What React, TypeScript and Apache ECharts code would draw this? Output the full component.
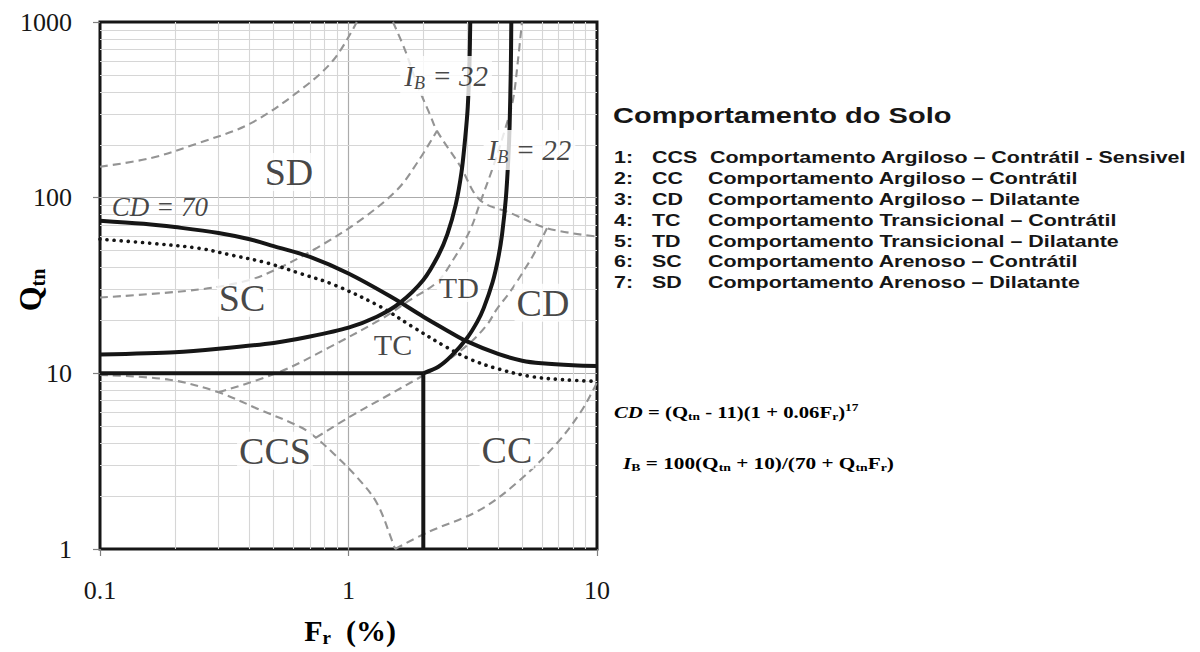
import React, { useEffect, useRef } from 'react';
import * as echarts from 'echarts';

// ---- axes -------------------------------------------------------------
const xTickLabels = ['0.1', '1', '10'];
const yTickLabels = ['1', '10', '100', '1000'];
const xMinorGrid = [0.2, 0.3, 0.4, 0.5, 0.6, 0.7, 0.8, 0.9, 2, 3, 4, 5, 6, 7, 8, 9];
const yMinorGrid = [2, 3, 4, 5, 6, 7, 8, 9, 20, 30, 40, 50, 60, 70, 80, 90, 200, 300, 400, 500, 600, 700, 800, 900];

// ---- solid boundaries [Fr, Qtn] --------------------------------------
const cd70 = [[0.1, 74], [0.15, 71], [0.2, 68], [0.3, 63], [0.4, 58], [0.5, 53], [0.7, 46], [1, 37], [1.5, 27], [2, 21], [2.5, 17.5], [3, 15.2], [4, 12.9], [5, 11.8], [6, 11.4], [8, 11.1], [10, 11]];
const ib32 = [[0.1, 12.8], [0.2, 13.2], [0.3, 13.8], [0.5, 14.9], [0.7, 16.2], [1, 18.2], [1.3, 21], [1.6, 25], [2, 34], [2.3, 47], [2.5, 62], [2.7, 91], [2.85, 140], [2.95, 220], [3.02, 330], [3.07, 600], [3.09, 1000]];
const ib22 = [[2, 10], [2.3, 10.9], [2.6, 12.6], [3, 15.9], [3.3, 19.7], [3.5, 23.5], [3.8, 33], [4, 45], [4.15, 62], [4.3, 100], [4.4, 170], [4.45, 257], [4.5, 540], [4.52, 1000]];
const ccsTop = [[0.1, 10], [2, 10]];
const ccsRight = [[2, 10], [2, 1]];

// dotted reference curve
const dottedCurve = [[0.1, 58], [0.16, 55], [0.25, 51.5], [0.34, 47], [0.47, 42.5], [0.64, 37], [0.87, 32], [1.34, 24], [1.8, 18.5], [2.5, 14], [3.1, 12], [4, 10.6], [5.4, 9.6], [7.3, 9.2], [10, 9]];

// grey dashed guide curves
const dashed1 = [[0.1, 150], [0.16, 168], [0.25, 205], [0.4, 263], [0.64, 410], [0.87, 608], [1.08, 1000]];
const dashed2 = [[1.51, 1000], [1.69, 690], [1.89, 440], [2.13, 296], [2.27, 240], [2.81, 152], [3.38, 97], [4.47, 82], [6.29, 67], [10, 60]];
const dashed3 = [[0.1, 27], [0.25, 30], [0.4, 34], [0.53, 40], [0.75, 52], [1.11, 74], [1.57, 111], [1.89, 158], [2.27, 240]];
const dashed4 = [[0.3, 7.8], [0.53, 10.2], [0.84, 14.1], [1.38, 20.7], [1.77, 26.2], [2.27, 33], [2.63, 44], [3.08, 65], [3.38, 93], [3.82, 150], [4.26, 243], [4.59, 360], [4.81, 608], [4.99, 1000]];
const dashed5 = [[0.74, 4.3], [1.01, 5.65], [1.38, 7.24], [1.94, 9.5], [2.45, 11.6], [3.08, 14.9], [3.61, 18.9], [3.96, 23.3], [4.47, 29.1], [5.04, 37.8], [5.63, 49], [6.29, 67]];
const dashed6 = [[0.1, 9.8], [0.19, 9.2], [0.3, 7.8], [0.44, 6.2], [0.64, 4.95], [0.74, 4.3], [0.87, 3.5], [1.08, 2.57], [1.3, 1.83], [1.51, 1.08], [1.54, 1]];
const dashed7 = [[1.54, 1], [2.07, 1.24], [3.38, 1.67], [4.9, 2.47], [6.9, 4.0], [8.55, 5.95], [9.64, 8.0], [10, 8.9]];

// ---- in-plot labels ----------------------------------------------------
const zoneNames = ['SD', 'SC', 'CCS', 'TD', 'TC', 'CD', 'CC'];
const zoneFr = [0.576, 0.373, 0.506, 2.78, 1.51, 6.06, 4.34];
const zoneQ = [140, 26.9, 3.62, 31, 14.5, 25.2, 3.66];
const zoneSize = [38, 38, 38, 30, 30, 38, 38];

const curveLabelText = ['{i|CD = 70}', '{i|I}{s|B}{i| = 32}', '{i|I}{s|B}{i| = 22}'];
const curveLabelFr = [0.174, 2.47, 5.35];
const curveLabelQ = [88, 493, 187];

// ---- side panel --------------------------------------------------------
const legendTitle = 'Comportamento do Solo';
const legendCodes = ['CCS', 'CC', 'CD', 'TC', 'TD', 'SC', 'SD'];
const legendTexts = [
  'Comportamento Argiloso – Contrátil - Sensivel',
  'Comportamento Argiloso – Contrátil',
  'Comportamento Argiloso – Dilatante',
  'Comportamento Transicional – Contrátil',
  'Comportamento Transicional – Dilatante',
  'Comportamento Arenoso – Contrátil',
  'Comportamento Arenoso – Dilatante',
];
const formulaCD = '{i|CD}{m| = (Q}{s|tn}{m| - 11)(1 + 0.06F}{s|r}{m|)}{p|17}';
const formulaIB = '{i|I}{s|B}{m| = 100(Q}{s|tn}{m| + 10)/(70 + Q}{s|tn}{m|F}{s|r}{m|)}';

const INK = '#161616';
const SERIF = '"Liberation Serif", "Times New Roman", serif';
const SANS = '"Liberation Sans", Arial, sans-serif';

function richSet(size: number, weight: string, italicMain: boolean) {
  const sub = Math.round(size * 0.62);
  const shift = Math.round(size * 0.5);
  const base = { fontFamily: SERIF, fontWeight: weight, color: INK, verticalAlign: 'middle' };
  return {
    m: { ...base, fontSize: size, lineHeight: Math.round(size * 1.25), fontStyle: italicMain ? 'italic' : 'normal' },
    i: { ...base, fontSize: size, lineHeight: Math.round(size * 1.25), fontStyle: 'italic' },
    s: { ...base, fontSize: sub, lineHeight: sub, padding: [shift, 0, 0, 0], fontStyle: italicMain ? 'italic' : 'normal' },
    p: { ...base, fontSize: sub, lineHeight: sub, padding: [0, 0, shift, 0] },
  };
}

function lineSeries(data: number[][], style: any, z: number, smooth: number | boolean = 0.35) {
  return {
    type: 'line',
    data,
    z,
    silent: true,
    showSymbol: false,
    symbol: 'none',
    smooth,
    lineStyle: style,
  };
}

function buildOption() {
  const dashStyle = { color: '#949494', width: 2.1, type: [8, 5] };
  const thick = { color: INK, width: 4 };
  const dotted = { color: INK, width: 3.6, type: [0.1, 7], cap: 'round' };

  const series: any[] = [
    {
      type: 'line',
      data: [],
      silent: true,
      markLine: {
        silent: true,
        z: 1,
        symbol: 'none',
        label: { show: false },
        lineStyle: { color: '#d6d6d6', width: 1.1, type: 'solid' },
        emphasis: { disabled: true },
        data: [...xMinorGrid.map((v) => ({ xAxis: v })), ...yMinorGrid.map((v) => ({ yAxis: v }))],
      },
    },
    ...[dashed1, dashed2, dashed3, dashed4, dashed5, dashed6, dashed7].map((d) => lineSeries(d, dashStyle, 3)),
    lineSeries(dottedCurve, dotted, 4),
    lineSeries(cd70, thick, 5),
    lineSeries(ib32, thick, 5, 0.25),
    lineSeries(ib22, thick, 5, 0.25),
    lineSeries(ccsTop, thick, 5, false),
    lineSeries(ccsRight, thick, 5, false),
    {
      type: 'scatter',
      z: 8,
      silent: true,
      symbolSize: 1,
      itemStyle: { color: 'rgba(0,0,0,0)' },
      data: zoneNames.map((n, k) => ({
        name: n,
        value: [zoneFr[k], zoneQ[k]],
        label: {
          show: true,
          position: 'inside',
          formatter: n,
          fontFamily: SERIF,
          fontSize: zoneSize[k],
          color: INK,
          backgroundColor: '#fff',
          padding: [0, 2],
        },
      })),
    },
    {
      type: 'scatter',
      z: 8,
      silent: true,
      symbolSize: 1,
      itemStyle: { color: 'rgba(0,0,0,0)' },
      data: curveLabelText.map((t, k) => ({
        value: [curveLabelFr[k], curveLabelQ[k]],
        label: {
          show: true,
          position: 'inside',
          formatter: t,
          rich: richSet(k === 0 ? 27 : 29, 'normal', true),
          backgroundColor: k === 0 ? 'transparent' : '#fff',
          padding: [2, 4],
        },
      })),
    },
  ];

  const rowY = (k: number) => 158 + k * 20.8;
  const SX = 1.34;
  const graphic: any[] = [
    {
      type: 'text',
      x: 30,
      y: 290,
      rotation: Math.PI / 2,
      z: 20,
      style: {
        text: '{m|Q}{s|tn}',
        rich: richSet(32, 'bold', false),
        align: 'center',
        verticalAlign: 'middle',
        textAlign: 'center',
        textVerticalAlign: 'middle',
      },
    },
    {
      type: 'text',
      x: 350,
      y: 630,
      z: 20,
      style: {
        text: '{m|F}{s|r}{m|  (%)}',
        rich: richSet(30, 'bold', false),
        align: 'center',
        verticalAlign: 'middle',
        textAlign: 'center',
        textVerticalAlign: 'middle',
      },
    },
    {
      type: 'text',
      x: 613,
      y: 115,
      scaleX: 1.35,
      z: 20,
      style: {
        text: legendTitle,
        fontFamily: SANS,
        fontSize: 21.5,
        fontWeight: 'bold',
        fill: INK,
        verticalAlign: 'middle',
        textVerticalAlign: 'middle',
      },
    },
    ...legendCodes.flatMap((code, k) => [
      { type: 'text', x: 614, y: rowY(k), scaleX: SX, z: 20, style: { text: `${k + 1}:`, fontFamily: SANS, fontSize: 16, fontWeight: 'bold', fill: INK, verticalAlign: 'middle', textVerticalAlign: 'middle' } },
      { type: 'text', x: 652, y: rowY(k), scaleX: SX, z: 20, style: { text: code, fontFamily: SANS, fontSize: 16, fontWeight: 'bold', fill: INK, verticalAlign: 'middle', textVerticalAlign: 'middle' } },
      { type: 'text', x: k === 0 ? 710 : 708, y: rowY(k), scaleX: SX, z: 20, style: { text: legendTexts[k], fontFamily: SANS, fontSize: 16, fontWeight: 'bold', fill: INK, verticalAlign: 'middle', textVerticalAlign: 'middle' } },
    ]),
    {
      type: 'text',
      x: 614,
      y: 412,
      scaleX: 1.22,
      z: 20,
      style: { text: formulaCD, rich: richSet(17, 'bold', false), verticalAlign: 'middle', textVerticalAlign: 'middle' },
    },
    {
      type: 'text',
      x: 623,
      y: 463,
      scaleX: 1.25,
      z: 20,
      style: { text: formulaIB, rich: richSet(17, 'bold', false), verticalAlign: 'middle', textVerticalAlign: 'middle' },
    },
  ];

  const axisCommon = {
    type: 'log',
    logBase: 10,
    axisLine: { show: false },
    axisTick: { show: true, length: 7, lineStyle: { color: '#808080', width: 1.2 } },
    splitLine: { show: true, showMinLine: false, showMaxLine: false, lineStyle: { color: '#ababab', width: 1.2 } },
    minorTick: { show: false },
  };

  return {
    animation: false,
    backgroundColor: '#fff',
    grid: { left: 100, top: 22, width: 497, height: 527, show: true, borderColor: INK, borderWidth: 3, backgroundColor: '#fff' },
    xAxis: {
      ...axisCommon,
      min: 0.1,
      max: 10,
      axisLabel: {
        fontFamily: SERIF,
        fontSize: 26,
        color: INK,
        margin: 28,
        formatter: (v: number) => xTickLabels[Math.round(Math.log10(v)) + 1],
      },
    },
    yAxis: {
      ...axisCommon,
      min: 1,
      max: 1000,
      axisLabel: {
        fontFamily: SERIF,
        fontSize: 26,
        color: INK,
        margin: 28,
        formatter: (v: number) => yTickLabels[Math.round(Math.log10(v))],
      },
    },
    series,
    graphic,
  };
}

export default function App() {
  const ref = useRef<HTMLDivElement>(null);
  useEffect(() => {
    if (!ref.current) return;
    const chart = echarts.init(ref.current, null, { renderer: 'svg' });
    chart.setOption(buildOption() as any);
    return () => chart.dispose();
  }, []);
  return (
    <div
      ref={ref}
      style={{ position: 'fixed', left: 0, top: 0, width: 1200, height: 652, background: '#fff' }}
    />
  );
}
